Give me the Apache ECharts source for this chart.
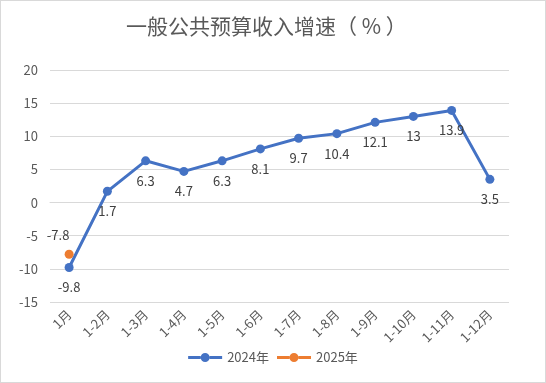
<!DOCTYPE html>
<html><head><meta charset="utf-8">
<script src="https://cdn.jsdelivr.net/npm/echarts@6/dist/echarts.min.js"></script>
<style>html,body{margin:0;padding:0;background:#fff}#c{width:544px;height:381px;border:1px solid #d9d9d9}</style>
</head><body><div id="c"></div>
<script>
const categories = ['1月','1-2月','1-3月','1-4月','1-5月','1-6月','1-7月','1-8月','1-9月','1-10月','1-11月','1-12月'];
const values2024 = [-9.8, 1.7, 6.3, 4.7, 6.3, 8.1, 9.7, 10.4, 12.1, 13, 13.9, 3.5];
const values2025 = [-7.8, null, null, null, null, null, null, null, null, null, null, null];
const yTicks = {min: -15, max: 20, interval: 5};

const font = '"Noto Sans CJK SC", "Noto Sans", sans-serif';
const legendIcon = 'path://M0,3.5L12.5,3.5L12.5,6.5L0,6.5Z M21.5,3.5L34,3.5L34,6.5L21.5,6.5Z M12.5,5A4.5,4.5,0,1,1,21.5,5A4.5,4.5,0,1,1,12.5,5Z';
const chart = echarts.init(document.getElementById('c'), null, {renderer: 'canvas'});
chart.setOption({
  animation: false,
  title: {text: '一般公共预算收入增速（ % ）', left: 120, top: 10,
    textStyle: {fontSize: 21, fontWeight: 'normal', color: '#595959', fontFamily: font}},
  grid: {left: 49, right: 36, top: 69, bottom: 80},
  legend: {bottom: 13, left: 'center', itemWidth: 34, itemHeight: 10, itemGap: 8,
    data: [{name: '2024年', icon: legendIcon}, {name: '2025年', icon: legendIcon}],
    textStyle: {fontSize: 13, color: '#595959', fontFamily: font}},
  xAxis: {type: 'category', data: categories, boundaryGap: true,
    axisLine: {show: true, lineStyle: {color: '#d9d9d9'}}, axisTick: {show: false},
    axisLabel: {rotate: 45, color: '#595959', fontSize: 13, fontFamily: font, margin: 10, interval: 0}},
  yAxis: {type: 'value', min: yTicks.min, max: yTicks.max, interval: yTicks.interval,
    axisLine: {show: false}, axisTick: {show: false},
    splitLine: {lineStyle: {color: '#d9d9d9'}},
    axisLabel: {color: '#595959', fontSize: 13, fontFamily: font, margin: 12}},
  series: [
    {name: '2024年', type: 'line', data: values2024, symbol: 'circle', symbolSize: 9,
      itemStyle: {color: '#4472C4'}, lineStyle: {width: 3, color: '#4472C4'},
      label: {show: true, position: 'bottom', distance: 9, color: '#404040', fontSize: 13, fontFamily: font}},
    {name: '2025年', type: 'line', data: values2025, symbol: 'circle', symbolSize: 9,
      itemStyle: {color: '#ED7D31'}, lineStyle: {width: 3, color: '#ED7D31'},
      label: {show: true, position: 'top', distance: 6, offset: [-11, -2], color: '#404040', fontSize: 13, fontFamily: font}}
  ]
});
</script></body></html>
